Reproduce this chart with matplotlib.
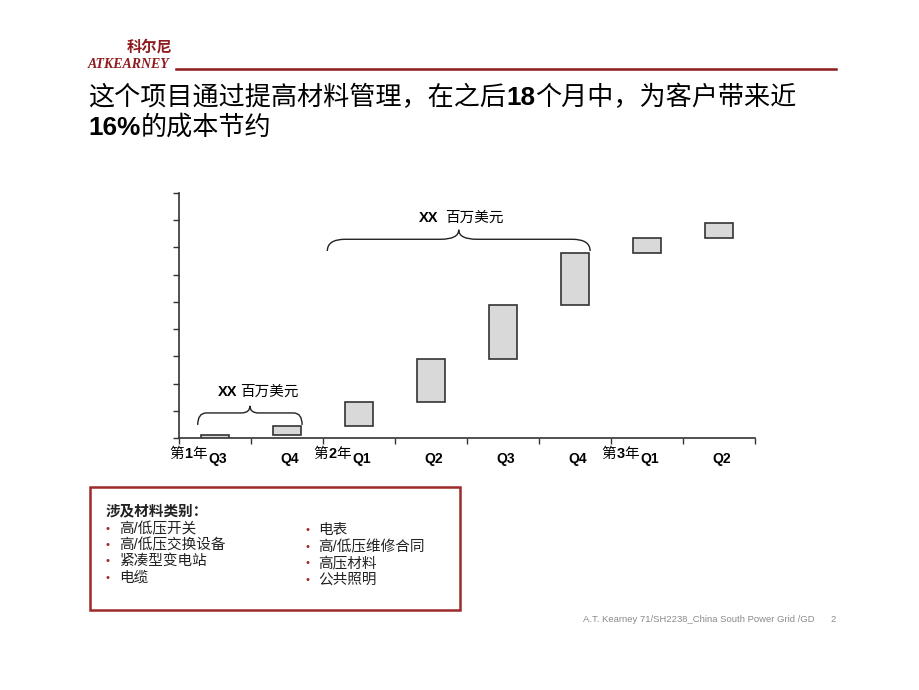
import matplotlib.pyplot as plt
import numpy as np
from matplotlib.offsetbox import AnnotationBbox, HPacker, TextArea
from matplotlib.patches import PathPatch, Rectangle
from matplotlib.path import Path

# ---- data ----
quarters = ["Q3", "Q4", "Q1", "Q2", "Q3", "Q4", "Q1", "Q2"]
years = ["第1年", "第2年", "第3年"]
year_start = [0, 2, 6]  # index of the first quarter of each year
savings = [0.10, 0.34, 0.90, 1.57, 1.96, 1.91, 0.56, 0.55]  # per-quarter increments

title_runs = [
    [("这个项目通过提高材料管理，在之后", False), ("18", True), ("个月中，为客户带来近", False)],
    [("16%", True), ("的成本节约", False)],
]
brace_label = [("XX", True), ("百万美元", False)]
box_title = "涉及材料类别："
items_left = ["高/低压开关", "高/低压交换设备", "紧凑型变电站", "电缆"]
items_right = ["电表", "高/低压维修合同", "高压材料", "公共照明"]
footer = "A.T. Kearney 71/SH2238_China South Power Grid /GD"
page_no = "2"

CJK = ["Liberation Sans", "Noto Sans CJK SC", "DejaVu Sans"]
RED = "#8e1b1f"
plt.rcParams["font.family"] = CJK

W, H = 920, 690
fig = plt.figure(figsize=(9.2, 6.9), dpi=100)


def runs_box(runs, size, color="black", sep=0):
    kids = []
    for s, bold in runs:
        kids.append(TextArea(s, textprops=dict(fontsize=size, color=color,
                                               family=CJK,
                                               weight="bold" if bold else "normal")))
    return HPacker(children=kids, align="baseline", pad=0, sep=sep)


def place(artist_parent, box, xy, coords, align):
    ab = AnnotationBbox(box, xy, xycoords=coords, frameon=False,
                        box_alignment=align, pad=0, annotation_clip=False)
    artist_parent.add_artist(ab)


def brace(ax, x0, x1, y_end, y_mid, y_tip, r, lw=1.0):
    xc = (x0 + x1) / 2
    verts = [(x0, y_end), (x0, y_mid), (x0 + r, y_mid),
             (xc - r, y_mid), (xc, y_mid), (xc, y_tip),
             (xc, y_mid), (xc + r, y_mid),
             (x1 - r, y_mid), (x1, y_mid), (x1, y_end)]
    codes = [Path.MOVETO, Path.CURVE3, Path.CURVE3,
             Path.LINETO, Path.CURVE3, Path.CURVE3,
             Path.CURVE3, Path.CURVE3,
             Path.LINETO, Path.CURVE3, Path.CURVE3]
    ax.add_patch(PathPatch(Path(verts, codes), fill=False, lw=lw, color="#222222"))


# ---- header ----
fig.text(172 / W, 1 - 47 / H, "科尔尼", ha="right", va="center", fontsize=11,
         color=RED, weight="bold", style="italic", family=["Noto Sans CJK SC"])
fig.text(88 / W, 1 - 64 / H, "ATKEARNEY", ha="left", va="center", fontsize=10,
         color=RED, weight="bold", style="italic", family=["Liberation Serif"])
fig.add_artist(plt.Line2D([176 / W, 836 / W], [1 - 69 / H, 1 - 69 / H],
                          color=RED, lw=1.8))

for k, runs in enumerate(title_runs):
    place(fig, runs_box(runs, 18.8), (88 / W, 1 - (85 + 30 * k) / H),
          "figure fraction", (0, 1))

# ---- chart ----
ax = fig.add_axes([179 / W, 1 - 438 / H, 576 / W, 245 / H])
x = np.arange(len(quarters))
tops = np.cumsum(savings)
bottoms = tops - np.array(savings)
ax.bar(x, tops - bottoms, bottom=bottoms, width=0.4, color="#d9d9d9",
       edgecolor="#333333", linewidth=1.2, zorder=3)

ax.set_xlim(-0.5, len(quarters) - 0.5)
ax.set_ylim(0, 9)
ax.set_yticks(np.arange(0, 10))
ax.set_xticks(np.arange(-0.5, len(quarters)))
ax.tick_params(axis="both", direction="out", length=4, width=1,
               labelleft=False, labelbottom=False, color="#333333")
for side in ["top", "right"]:
    ax.spines[side].set_visible(False)
for side in ["left", "bottom"]:
    ax.spines[side].set_linewidth(1.2)
    ax.spines[side].set_color("#333333")

for i, q in enumerate(quarters):
    ax.text(i + 0.04, -0.78, q, ha="center", va="center", fontsize=10,
            weight="bold", family=CJK, clip_on=False)
for yr, s in zip(years, year_start):
    runs = [(yr[0], False), (yr[1], True), (yr[2], False)]
    place(ax, runs_box(runs, 10.5), (s - 0.5 + 0.13, -0.58), "data", (0.5, 0.5))

# braces
brace(ax, -0.24, 1.21, 0.48, 0.92, 1.18, 0.12)
place(ax, runs_box(brace_label, 10.5, sep=2), (0.6, 1.7), "data", (0.5, 0.5))
brace(ax, 1.56, 5.21, 6.87, 7.3, 7.65, 0.25)
place(ax, runs_box(brace_label, 10.5, sep=5), (3.42, 8.1), "data", (0.5, 0.5))

# ---- materials box ----
fig.add_artist(Rectangle((90 / W, 1 - 610 / H), 370 / W, 123 / H,
                         transform=fig.transFigure, fill=False,
                         edgecolor="#9e2a2b", lw=1.8))
fig.text(106 / W, 1 - 511 / H, box_title, ha="left", va="center",
         fontsize=10.5, weight="bold", color="#222222")
for col, (bx, tx, ys) in enumerate([(108, 119, [529, 545, 561, 578]),
                                     (308, 318, [530, 547, 563, 580])]):
    items = items_left if col == 0 else items_right
    for item, yy in zip(items, ys):
        fig.text(bx / W, 1 - yy / H, "•", ha="center", va="center",
                 fontsize=8, color="#9e2a2b")
        fig.text(tx / W, 1 - yy / H, item, ha="left", va="center",
                 fontsize=10.5, color="#222222")

# ---- footer ----
fig.text(583 / W, 1 - 619 / H, footer, ha="left", va="center",
         fontsize=6.8, color="#8a8a8a")
fig.text(833 / W, 1 - 619 / H, page_no, ha="center", va="center",
         fontsize=6.8, color="#8a8a8a")

fig.savefig("out.png", dpi=100)
